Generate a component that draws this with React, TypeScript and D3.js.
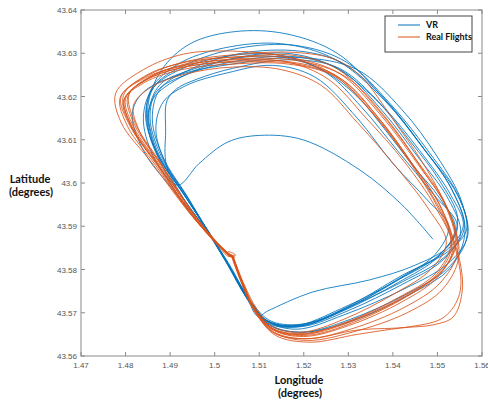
import * as d3 from "d3";

// each flight is a list of [longitude, latitude] waypoints
const vr01 = [[1.4978,43.5900],[1.5030,43.5812],[1.5078,43.5728],[1.5122,43.5678],[1.5195,43.5668],[1.5300,43.5705],[1.5420,43.5765],[1.5510,43.5820],[1.5552,43.5882],[1.5525,43.5962],[1.5455,43.6062],[1.5372,43.6172],[1.5282,43.6262],[1.5180,43.6292],[1.5050,43.6282],[1.4940,43.6252],[1.4870,43.6212],[1.4855,43.6150],[1.4880,43.6062],[1.4935,43.5972],[1.4980,43.5898]];
const vr02 = [[1.4975,43.5905],[1.5028,43.5815],[1.5075,43.5730],[1.5118,43.5680],[1.5185,43.5662],[1.5290,43.5695],[1.5425,43.5755],[1.5525,43.5815],[1.5568,43.5878],[1.5548,43.5968],[1.5482,43.6070],[1.5395,43.6182],[1.5295,43.6280],[1.5182,43.6318],[1.5055,43.6312],[1.4945,43.6278],[1.4868,43.6228],[1.4845,43.6158],[1.4872,43.6065],[1.4930,43.5975],[1.4976,43.5902]];
const vr03 = [[1.4980,43.5898],[1.5032,43.5810],[1.5080,43.5726],[1.5125,43.5670],[1.5200,43.5655],[1.5310,43.5682],[1.5430,43.5738],[1.5530,43.5805],[1.5562,43.5890],[1.5535,43.5980],[1.5465,43.6085],[1.5380,43.6195],[1.5275,43.6300],[1.5160,43.6345],[1.5045,43.6350],[1.4945,43.6322],[1.4880,43.6260],[1.4850,43.6175],[1.4868,43.6075],[1.4928,43.5978],[1.4978,43.5900]];
const vr04 = [[1.4982,43.5895],[1.5035,43.5808],[1.5082,43.5725],[1.5128,43.5680],[1.5205,43.5675],[1.5305,43.5715],[1.5415,43.5778],[1.5495,43.5835],[1.5525,43.5900],[1.5478,43.5960],[1.5400,43.6045],[1.5320,43.6150],[1.5225,43.6245],[1.5130,43.6272],[1.5030,43.6255],[1.4935,43.6225],[1.4885,43.6188],[1.4868,43.6125],[1.4890,43.6045],[1.4940,43.5965],[1.4982,43.5893]];
const vr05 = [[1.4978,43.5900],[1.5030,43.5812],[1.5080,43.5728],[1.5120,43.5676],[1.5190,43.5668],[1.5295,43.5712],[1.5418,43.5785],[1.5515,43.5840],[1.5558,43.5900],[1.5530,43.5972],[1.5460,43.6075],[1.5375,43.6180],[1.5280,43.6265],[1.5170,43.6285],[1.5040,43.6265],[1.4960,43.6240],[1.4915,43.6218],[1.4893,43.6190],[1.4890,43.6120],[1.4892,43.6040],[1.4930,43.5965],[1.4975,43.5900]];
const vr06 = [[1.4978,43.5900],[1.5030,43.5812],[1.5075,43.5728],[1.5097,43.5692],[1.5119,43.5704],[1.5220,43.5748],[1.5348,43.5776],[1.5450,43.5810],[1.5525,43.5855],[1.5545,43.5920],[1.5505,43.6005],[1.5440,43.6095],[1.5360,43.6195],[1.5265,43.6270],[1.5160,43.6300],[1.5030,43.6285],[1.4925,43.6245],[1.4862,43.6195],[1.4850,43.6135],[1.4875,43.6055],[1.4917,43.5995],[1.4965,43.6045],[1.5030,43.6095],[1.5100,43.6110],[1.5198,43.6100],[1.5326,43.6030],[1.5420,43.5950],[1.5490,43.5870]];
const vr07 = [[1.4972,43.5908],[1.5025,43.5818],[1.5072,43.5734],[1.5115,43.5684],[1.5180,43.5670],[1.5285,43.5710],[1.5410,43.5775],[1.5505,43.5835],[1.5545,43.5900],[1.5490,43.5975],[1.5410,43.6075],[1.5330,43.6175],[1.5250,43.6255],[1.5150,43.6295],[1.5040,43.6295],[1.4935,43.6268],[1.4862,43.6220],[1.4840,43.6152],[1.4862,43.6062],[1.4922,43.5975],[1.4972,43.5905]];
const vr08 = [[1.4980,43.5898],[1.5032,43.5808],[1.5080,43.5722],[1.5124,43.5672],[1.5198,43.5655],[1.5305,43.5685],[1.5428,43.5742],[1.5522,43.5802],[1.5565,43.5870],[1.5555,43.5955],[1.5500,43.6060],[1.5420,43.6170],[1.5320,43.6262],[1.5190,43.6290],[1.5040,43.6275],[1.4920,43.6250],[1.4840,43.6210],[1.4815,43.6160],[1.4840,43.6075],[1.4910,43.5980],[1.4975,43.5902]];
const vr09 = [[1.4976,43.5902],[1.5028,43.5814],[1.5076,43.5730],[1.5120,43.5680],[1.5192,43.5672],[1.5298,43.5712],[1.5422,43.5772],[1.5515,43.5828],[1.5560,43.5895],[1.5532,43.5985],[1.5462,43.6090],[1.5378,43.6198],[1.5285,43.6278],[1.5190,43.6305],[1.5060,43.6300],[1.4950,43.6265],[1.4878,43.6218],[1.4860,43.6148],[1.4885,43.6058],[1.4938,43.5970],[1.4978,43.5900]];
const vr10 = [[1.4979,43.5899],[1.5031,43.5811],[1.5079,43.5727],[1.5126,43.5676],[1.5205,43.5672],[1.5312,43.5718],[1.5435,43.5792],[1.5528,43.5845],[1.5566,43.5895],[1.5545,43.5972],[1.5470,43.6078],[1.5382,43.6190],[1.5272,43.6285],[1.5150,43.6322],[1.5020,43.6312],[1.4918,43.6275],[1.4858,43.6218],[1.4848,43.6140],[1.4878,43.6055],[1.4932,43.5972],[1.4978,43.5900]];
const vr11 = [[1.4977,43.5901],[1.5029,43.5813],[1.5077,43.5729],[1.5121,43.5679],[1.5188,43.5669],[1.5292,43.5706],[1.5412,43.5770],[1.5500,43.5828],[1.5540,43.5895],[1.5505,43.5965],[1.5445,43.6040],[1.5385,43.6120],[1.5320,43.6200],[1.5235,43.6265],[1.5140,43.6292],[1.5045,43.6288],[1.4948,43.6262],[1.4878,43.6228],[1.4852,43.6162],[1.4872,43.6072],[1.4928,43.5980],[1.4976,43.5902]];

const rf01 = [[1.5040,43.5832],[1.5062,43.5770],[1.5092,43.5705],[1.5132,43.5660],[1.5200,43.5645],[1.5300,43.5670],[1.5420,43.5725],[1.5500,43.5782],[1.5535,43.5850],[1.5510,43.5940],[1.5440,43.6050],[1.5360,43.6160],[1.5270,43.6250],[1.5170,43.6280],[1.5050,43.6282],[1.4930,43.6268],[1.4845,43.6238],[1.4800,43.6195],[1.4818,43.6130],[1.4878,43.6040],[1.4948,43.5932],[1.5010,43.5855],[1.5038,43.5828]];
const rf02 = [[1.5038,43.5835],[1.5060,43.5772],[1.5090,43.5702],[1.5135,43.5652],[1.5210,43.5640],[1.5320,43.5660],[1.5440,43.5668],[1.5515,43.5690],[1.5550,43.5745],[1.5545,43.5830],[1.5505,43.5935],[1.5440,43.6045],[1.5362,43.6152],[1.5272,43.6245],[1.5165,43.6275],[1.5040,43.6275],[1.4925,43.6262],[1.4842,43.6232],[1.4795,43.6190],[1.4815,43.6125],[1.4875,43.6035],[1.4945,43.5930],[1.5008,43.5858],[1.5040,43.5830],[1.5048,43.5834]];
const rf03 = [[1.5042,43.5830],[1.5064,43.5768],[1.5095,43.5702],[1.5138,43.5658],[1.5210,43.5648],[1.5312,43.5678],[1.5432,43.5738],[1.5512,43.5798],[1.5540,43.5862],[1.5515,43.5955],[1.5462,43.6055],[1.5405,43.6140],[1.5375,43.6185],[1.5330,43.6245],[1.5272,43.6285],[1.5180,43.6302],[1.5060,43.6298],[1.4940,43.6282],[1.4852,43.6250],[1.4790,43.6200],[1.4810,43.6132],[1.4872,43.6042],[1.4945,43.5932],[1.5012,43.5852],[1.5036,43.5828]];
const rf04 = [[1.5036,43.5836],[1.5058,43.5774],[1.5088,43.5708],[1.5128,43.5662],[1.5195,43.5650],[1.5295,43.5678],[1.5412,43.5735],[1.5495,43.5790],[1.5530,43.5858],[1.5505,43.5948],[1.5432,43.6060],[1.5350,43.6168],[1.5260,43.6255],[1.5160,43.6292],[1.5040,43.6305],[1.4930,43.6298],[1.4840,43.6262],[1.4778,43.6208],[1.4790,43.6140],[1.4858,43.6048],[1.4940,43.5935],[1.5005,43.5858],[1.5032,43.5830],[1.5045,43.5835],[1.5030,43.5842]];
const rf05 = [[1.5040,43.5832],[1.5065,43.5768],[1.5095,43.5708],[1.5130,43.5668],[1.5195,43.5655],[1.5290,43.5685],[1.5405,43.5745],[1.5485,43.5800],[1.5520,43.5862],[1.5480,43.5940],[1.5405,43.6040],[1.5320,43.6140],[1.5240,43.6225],[1.5150,43.6262],[1.5040,43.6268],[1.4935,43.6252],[1.4858,43.6222],[1.4818,43.6180],[1.4832,43.6118],[1.4888,43.6030],[1.4952,43.5930],[1.5012,43.5855],[1.5040,43.5830]];
const rf06 = [[1.5038,43.5834],[1.5060,43.5772],[1.5090,43.5704],[1.5132,43.5656],[1.5205,43.5640],[1.5305,43.5662],[1.5425,43.5712],[1.5505,43.5768],[1.5545,43.5840],[1.5525,43.5935],[1.5455,43.6045],[1.5372,43.6158],[1.5282,43.6252],[1.5180,43.6288],[1.5060,43.6292],[1.4945,43.6278],[1.4855,43.6245],[1.4805,43.6200],[1.4820,43.6135],[1.4880,43.6042],[1.4950,43.5932],[1.5012,43.5856],[1.5040,43.5830]];
const rf07 = [[1.5040,43.5832],[1.5062,43.5770],[1.5092,43.5702],[1.5136,43.5648],[1.5215,43.5632],[1.5320,43.5650],[1.5420,43.5665],[1.5490,43.5672],[1.5535,43.5690],[1.5555,43.5745],[1.5552,43.5810],[1.5520,43.5910],[1.5452,43.6030],[1.5372,43.6145],[1.5285,43.6240],[1.5185,43.6275],[1.5060,43.6280],[1.4942,43.6270],[1.4850,43.6240],[1.4798,43.6195],[1.4815,43.6128],[1.4875,43.6038],[1.4946,43.5932],[1.5010,43.5856],[1.5038,43.5830]];
const rf08 = [[1.5038,43.5834],[1.5060,43.5772],[1.5090,43.5706],[1.5130,43.5664],[1.5198,43.5652],[1.5302,43.5680],[1.5428,43.5740],[1.5508,43.5795],[1.5542,43.5858],[1.5518,43.5952],[1.5448,43.6060],[1.5368,43.6168],[1.5278,43.6262],[1.5178,43.6295],[1.5055,43.6292],[1.4938,43.6280],[1.4848,43.6250],[1.4795,43.6202],[1.4812,43.6135],[1.4872,43.6045],[1.4944,43.5934],[1.5008,43.5857],[1.5032,43.5832],[1.5046,43.5828]];
const rf09 = [[1.5040,43.5832],[1.5062,43.5771],[1.5092,43.5704],[1.5134,43.5654],[1.5208,43.5636],[1.5312,43.5656],[1.5432,43.5700],[1.5512,43.5755],[1.5548,43.5830],[1.5528,43.5928],[1.5462,43.6038],[1.5385,43.6150],[1.5295,43.6245],[1.5190,43.6282],[1.5065,43.6288],[1.4948,43.6275],[1.4860,43.6248],[1.4808,43.6205],[1.4822,43.6138],[1.4880,43.6045],[1.4950,43.5933],[1.5012,43.5855],[1.5040,43.5830]];
const rf10 = [[1.5039,43.5833],[1.5061,43.5771],[1.5091,43.5705],[1.5133,43.5662],[1.5202,43.5650],[1.5298,43.5676],[1.5415,43.5730],[1.5498,43.5788],[1.5532,43.5855],[1.5495,43.5945],[1.5425,43.6050],[1.5340,43.6150],[1.5255,43.6240],[1.5162,43.6280],[1.5045,43.6285],[1.4928,43.6272],[1.4842,43.6242],[1.4788,43.6198],[1.4805,43.6130],[1.4868,43.6040],[1.4942,43.5934],[1.5006,43.5857],[1.5036,43.5830]];

const vrFlights = [vr01, vr02, vr03, vr04, vr05, vr06, vr07, vr08, vr09, vr10, vr11];
const realFlights = [rf01, rf02, rf03, rf04, rf05, rf06, rf07, rf08, rf09, rf10];

const xTicks = [1.47, 1.48, 1.49, 1.5, 1.51, 1.52, 1.53, 1.54, 1.55, 1.56];
const yTicks = [43.56, 43.57, 43.58, 43.59, 43.6, 43.61, 43.62, 43.63, 43.64];
const legendItems = ["VR", "Real Flights"];

const W = 488;
const H = 400;
const margin = { top: 10, right: 6, bottom: 44, left: 81 };
const BLUE = "#0072BD";
const ORANGE = "#D95319";
const AXIS = "#8a8a8a";

export default function App() {
  const x = d3.scaleLinear().domain([1.47, 1.56]).range([margin.left, W - margin.right]);
  const y = d3.scaleLinear().domain([43.56, 43.64]).range([H - margin.bottom, margin.top]);
  const line = d3
    .line<number[]>()
    .x((d) => x(d[0]))
    .y((d) => y(d[1]))
    .curve(d3.curveCatmullRom.alpha(0.5));

  const x0 = margin.left;
  const x1 = W - margin.right;
  const y0 = H - margin.bottom;
  const y1 = margin.top;
  const tick = 4;

  return (
    <svg width={W} height={H} style={{ position: "absolute", left: 0, top: 0, background: "#fff" }}>
      <defs>
        <clipPath id="plot">
          <rect x={x0} y={y1} width={x1 - x0} height={y0 - y1} />
        </clipPath>
      </defs>

      <g clipPath="url(#plot)" fill="none" strokeWidth={0.85}>
        {vrFlights.map((f, i) => (
          <path key={"vr" + i} d={line(f) || ""} stroke={BLUE} />
        ))}
        {realFlights.map((f, i) => (
          <path key={"rf" + i} d={line(f) || ""} stroke={ORANGE} />
        ))}
      </g>

      {/* axes box with inward ticks */}
      <g stroke={AXIS} strokeWidth={1} fill="none">
        <rect x={x0} y={y1} width={x1 - x0} height={y0 - y1} />
        {xTicks.map((t) => (
          <g key={"xt" + t}>
            <line x1={x(t)} x2={x(t)} y1={y0} y2={y0 - tick} />
            <line x1={x(t)} x2={x(t)} y1={y1} y2={y1 + tick} />
          </g>
        ))}
        {yTicks.map((t) => (
          <g key={"yt" + t}>
            <line x1={x0} x2={x0 + tick} y1={y(t)} y2={y(t)} />
            <line x1={x1} x2={x1 - tick} y1={y(t)} y2={y(t)} />
          </g>
        ))}
      </g>

      <g fontFamily="Liberation Sans, Arial, sans-serif" fontSize={8} fill="#555">
        {xTicks.map((t) => (
          <text key={"xl" + t} x={x(t)} y={y0 + 12} textAnchor="middle">
            {d3.format("")(t)}
          </text>
        ))}
        {yTicks.map((t) => (
          <text key={"yl" + t} x={x0 - 4} y={y(t) + 3} textAnchor="end">
            {d3.format("")(t)}
          </text>
        ))}
      </g>

      <g fontFamily="Lato, sans-serif" fontWeight="bold" fontSize={11} fill="#111" textAnchor="middle">
        <text x={30} y={183}>Latitude</text>
        <text x={31} y={196}>(degrees)</text>
        <text x={299} y={384}>Longitude</text>
        <text x={300} y={397}>(degrees)</text>
      </g>

      {/* legend */}
      <g>
        <rect x={385} y={16} width={87} height={36} fill="#fff" stroke="#444" strokeWidth={1} />
        {legendItems.map((name, i) => (
          <g key={name}>
            <line x1={398} x2={420} y1={25 + i * 12} y2={25 + i * 12} stroke={i === 0 ? BLUE : ORANGE} strokeWidth={1} />
            <text x={426} y={28 + i * 12} fontFamily="Lato, sans-serif" fontWeight="bold" fontSize={9} fill="#111">
              {name}
            </text>
          </g>
        ))}
      </g>
    </svg>
  );
}
